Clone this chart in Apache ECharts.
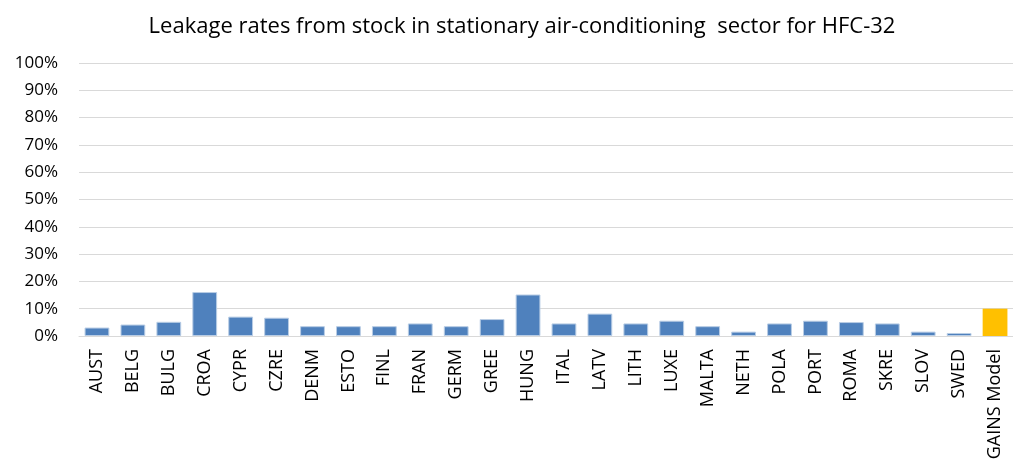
<!DOCTYPE html>
<html><head><meta charset="utf-8">
<script src="https://cdn.jsdelivr.net/npm/echarts@6/dist/echarts.min.js"></script>
<style>html,body{margin:0;padding:0;background:#fff}#c{width:1013px;height:466px}</style>
</head><body><div id="c"></div>
<script>
const categories = ["AUST","BELG","BULG","CROA","CYPR","CZRE","DENM","ESTO","FINL","FRAN","GERM","GREE","HUNG","ITAL","LATV","LITH","LUXE","MALTA","NETH","POLA","PORT","ROMA","SKRE","SLOV","SWED","GAINS Model"];
const values = [3.1,4.2,5.2,16.1,7.1,6.7,3.6,3.6,3.6,4.6,3.6,6.2,15.2,4.6,8.2,4.6,5.6,3.6,1.6,4.6,5.6,5.1,4.6,1.6,1.1,10];
const highlight = "GAINS Model";
const yTicks = [0,10,20,30,40,50,60,70,80,90,100];

const chart = echarts.init(document.getElementById('c'), null, {renderer:'canvas'});
const font = '"Open Sans", "Noto Sans", sans-serif';
chart.setOption({
  animation:false,
  title:{text:'Leakage rates from stock in stationary air-conditioning  sector for HFC-32', left:517, textAlign:'center', top:11,
    textStyle:{fontFamily:font, fontSize:22, fontWeight:'normal', color:'#000'}},
  grid:{left:79, right:-7, top:63, bottom:130},
  xAxis:{type:'category', data:categories,
    axisLine:{show:true, lineStyle:{color:'#d9d9d9', width:1}},
    axisTick:{show:false},
    axisLabel:{rotate:90, interval:0, fontFamily:font, fontSize:18, color:'#000', margin:13}},
  yAxis:{type:'value', min:yTicks[0], max:yTicks[yTicks.length-1], interval:10,
    axisLabel:{formatter:'{value}%', fontFamily:font, fontSize:17, color:'#000', margin:21},
    axisLine:{show:false}, axisTick:{show:false},
    splitLine:{lineStyle:{color:'#d9d9d9', width:1}}},
  series:[{type:'bar', barCategoryGap:'31%',
    data: values.map((v,i)=>({value:v, itemStyle: categories[i]===highlight ? {color:'#ffc000', borderWidth:0} : {color:'#4f81bd', borderColor:'#b9cde5', borderWidth:1}}))
  }]
});
</script></body></html>
